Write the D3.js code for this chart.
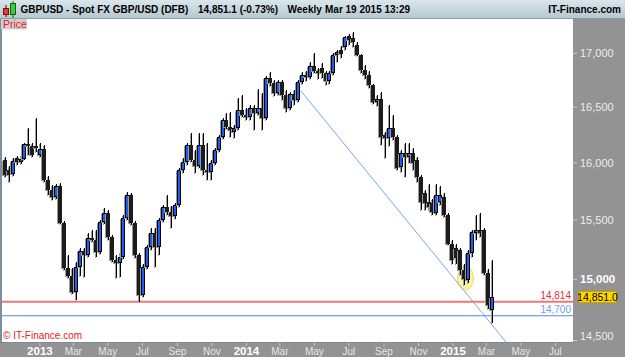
<!DOCTYPE html>
<html>
<head>
<meta charset="utf-8">
<script src="https://cdn.jsdelivr.net/npm/d3@7"></script>
<style>
body { margin: 0; background: #fff; }
svg { display: block; font-family: Arial, "Liberation Sans", sans-serif; }
</style>
</head>
<body>
<svg id="chart" width="625" height="357"></svg>
<script>
// weekly GBP/USD candles, first week starts Mon 5 Nov 2012
const firstWeek = '2012-11-05';
const opens = [16025,15936,15900,16043,16007,16034,16167,16149,16149,16069,16123,15848,15760,15699,15795,15475,15094,15028,14895,15102,
  15237,15203,15347,15330,15228,15484,15561,15356,15161,15136,15186,15518,15717,15475,15203,14870,15102,15271,15390,15271,
  15501,15613,15570,15535,15630,15936,16007,16158,16025,15971,16158,15936,15918,15998,16114,16230,16383,16320,16275,16311,
  16475,16429,16411,16493,16447,16493,16402,16770,16723,16630,16732,16612,16493,16621,16566,16732,16797,16779,16881,16834,
  16862,16816,16742,16816,16984,17031,17060,17164,17145,17078,16984,16844,16797,16704,16548,16575,16248,16220,16311,16230,
  15962,16087,16052,16087,16025,15875,15734,15656,15647,15561,15656,15699,15544,15296,15262,15245,15077,14994,15220,15390,
  15415,15415,15052,14747];
const highs = [16052,15971,16043,16061,16069,16176,16311,16176,16400,16176,16158,15883,15804,15813,15822,15492,15203,15094,15144,15262,
  15262,15390,15415,15415,15501,15604,15587,15372,15203,15228,15544,15743,15734,15492,15220,15127,15288,15432,15432,15518,
  15630,15717,15621,15647,15953,16043,16176,16266,16114,16266,16266,16176,16025,16132,16248,16402,16447,16456,16340,16584,
  16612,16493,16520,16520,16667,16630,16788,16825,16751,16751,16751,16658,16640,16658,16751,16825,16834,16918,17003,16862,
  16909,16834,16834,17003,17031,17070,17164,17183,17200,17107,16993,16890,16834,16714,16612,16640,16275,16520,16429,16248,
  16114,16176,16176,16132,16052,15892,15760,15813,15680,15813,15795,15734,15561,15330,15296,15262,15127,15245,15415,15544,
  15561,15432,15085,15161];
const lows = [15875,15830,15883,15980,15989,16025,16069,16052,16096,16052,15830,15717,15673,15682,15467,15077,15011,14878,14829,15028,
  15019,15186,15313,15186,15211,15467,15330,15144,15011,15019,15169,15501,15458,15178,14814,14853,15085,15245,15102,15203,
  15484,15544,15432,15509,15613,15909,15980,16007,15909,15953,15892,15848,15848,15980,16096,16212,16302,16230,16220,16290,
  16411,16383,16383,16293,16429,16293,16383,16695,16603,16612,16566,16456,16475,16520,16548,16714,16742,16760,16816,16760,
  16770,16704,16714,16797,16920,16956,17030,17080,17060,16975,16816,16760,16680,16530,16511,16158,16043,16150,16203,15936,
  15918,15875,15998,15936,15830,15587,15587,15587,15544,15544,15630,15527,15288,15127,15127,15036,14953,14970,15186,15330,
  15356,15036,14755,14642];
const closes = [15892,15892,16016,16007,16034,16167,16149,16069,16132,16123,15848,15760,15699,15795,15475,15094,15028,14895,15102,15237,
  15203,15347,15330,15228,15484,15561,15356,15161,15136,15186,15518,15717,15475,15203,14870,15102,15271,15390,15271,15501,
  15613,15570,15535,15630,15936,16007,16158,16025,15971,16158,15936,15918,15998,16114,16230,16383,16320,16293,16311,16475,
  16429,16411,16493,16447,16493,16402,16770,16723,16630,16732,16612,16493,16621,16566,16732,16797,16779,16881,16834,16816,
  16816,16742,16816,16984,17012,16993,17155,17126,17107,16984,16844,16797,16704,16548,16575,16230,16220,16311,16230,15953,
  16087,16052,16087,15998,15875,15656,15647,15613,15570,15717,15717,15544,15296,15161,15178,15077,15003,15220,15398,15415,
  15390,15052,14788,14851];

const priceTicks = [14500, 15000, 15500, 16000, 16500, 17000];
const timeTicks = ['2013-01-01','2013-03-01','2013-05-01','2013-07-01','2013-09-01','2013-11-01',
  '2014-01-01','2014-03-01','2014-05-01','2014-07-01','2014-09-01','2014-11-01',
  '2015-01-01','2015-03-01','2015-05-01','2015-07-01'];
const levelValues = [14814, 14700];
const trendDates = ['2014-04-07', '2015-04-06'];
const trendPrices = [16650, 14480];
const markDate = '2015-01-23', markPrice = 15010;
const lastPrice = 14851.0;

const W = 625, H = 357;
const plotL = 2, plotR = 573, plotT = 19, plotB = 342;
const parse = d3.utcParse('%Y-%m-%d');
const blue = '#1e5cf2';

const candles = opens.map((o, i) => ({
    date: d3.utcDay.offset(parse(firstWeek), 7 * i),
    o: o, h: highs[i], l: lows[i], c: closes[i]
}));

const x = d3.scaleUtc()
    .domain([parse('2012-10-26'), parse('2015-08-01')])
    .range([plotL, plotR]);
const y = d3.scaleLog()
    .domain([14488, 17326])
    .range([plotB, plotT]);

const svg = d3.select('#chart');
const defs = svg.append('defs');

let grad = defs.append('linearGradient').attr('id', 'hdr').attr('x1', 0).attr('x2', 0).attr('y1', 0).attr('y2', 1);
grad.append('stop').attr('offset', '0%').attr('stop-color', '#dbe6eb');
grad.append('stop').attr('offset', '100%').attr('stop-color', '#b4c6cf');

defs.append('clipPath').attr('id', 'plotClip')
    .append('rect')
    .attr('x', plotL).attr('y', plotT)
    .attr('width', plotR - plotL).attr('height', plotB - plotT);

// panels
svg.append('rect').attr('width', W).attr('height', H).attr('fill', '#939393');
svg.append('rect')
    .attr('x', plotL).attr('y', plotT)
    .attr('width', plotR - plotL).attr('height', plotB - plotT)
    .attr('fill', '#fff');
svg.append('rect').attr('x', 0).attr('y', plotT).attr('width', plotL).attr('height', plotB - plotT).attr('fill', '#7c8f9a');
svg.append('line')
    .attr('x1', 0).attr('x2', plotR).attr('y1', plotB + 0.5).attr('y2', plotB + 0.5)
    .attr('stroke', '#7c8a92');

const plot = svg.append('g').attr('clip-path', 'url(#plotClip)');

// yellow highlight
plot.append('ellipse')
    .attr('cx', x(parse(markDate)))
    .attr('cy', y(markPrice))
    .attr('rx', 8).attr('ry', 12)
    .attr('fill', '#fbf5a0')
    .attr('stroke', '#e6dc78')
    .attr('stroke-width', 1);

// trend line
plot.append('line')
    .attr('x1', x(parse(trendDates[0]))).attr('y1', y(trendPrices[0]))
    .attr('x2', x(parse(trendDates[1]))).attr('y2', y(trendPrices[1]))
    .attr('stroke', '#7aa6f4')
    .attr('stroke-width', 1);

// horizontal levels
const levelColors = ['#f27474', '#4f86ee'];
const levelWidths = [2, 1];
const levelText = ['#ee2a36', '#6b9ef0'];
levelValues.forEach((v, i) => {
    plot.append('line')
        .attr('x1', plotL).attr('x2', plotR)
        .attr('y1', y(v)).attr('y2', y(v))
        .attr('stroke', levelColors[i])
        .attr('stroke-width', levelWidths[i]);
    svg.append('text')
        .attr('x', plotR - 2)
        .attr('y', y(v) - 3)
        .attr('text-anchor', 'end')
        .attr('font-size', '10px')
        .attr('fill', levelText[i])
        .text(d3.format(',')(v));
});

// candles
const cg = plot.append('g').attr('shape-rendering', 'crispEdges');
candles.forEach(d => {
    let cx = Math.round(x(d.date) - 3);
    let top = Math.round(y(Math.max(d.o, d.c)));
    let bot = Math.round(y(Math.min(d.o, d.c)));
    let hi = Math.round(y(d.h));
    let lo = Math.round(y(d.l));
    let bh = Math.max(1, bot - top);
    // grey shadow
    cg.append('rect').attr('x', cx - 1).attr('y', hi + 1).attr('width', 1).attr('height', lo - hi).attr('fill', '#a0a0a0');
    cg.append('rect').attr('x', cx - 3).attr('y', top + 1).attr('width', 4).attr('height', bh).attr('fill', '#9a9a9a');
    // wick
    cg.append('rect').attr('x', cx).attr('y', hi).attr('width', 1).attr('height', lo - hi).attr('fill', '#000');
    // body
    cg.append('rect').attr('x', cx - 2).attr('y', top).attr('width', 4).attr('height', bh)
        .attr('fill', d.c >= d.o ? '#000' : '#1c1c1c');
    if (d.c >= d.o && bh > 2) {
        cg.append('rect').attr('x', cx - 1).attr('y', top + 1).attr('width', 2).attr('height', bh - 2)
            .attr('fill', blue);
    }
});

// right axis
const ya = svg.append('g');
priceTicks.forEach(v => {
    let ty = y(v);
    ya.append('line')
        .attr('x1', plotR).attr('x2', plotR + 4)
        .attr('y1', ty).attr('y2', ty)
        .attr('stroke', '#c8c8c8');
    ya.append('text')
        .attr('x', plotR + 7)
        .attr('y', Math.min(ty, 336))
        .attr('dy', '0.35em')
        .attr('font-size', v === 15000 ? '11.5px' : '11px')
        .attr('font-weight', v === 15000 ? 'bold' : 'normal')
        .attr('fill', v === 15000 ? '#ffffff' : '#ececec')
        .text(d3.format(',')(v));
});

// last price tag
svg.append('rect')
    .attr('x', 578.5).attr('y', y(lastPrice) - 6)
    .attr('width', 38).attr('height', 11.5)
    .attr('fill', '#ffd600')
    .attr('stroke', '#b89b00');
svg.append('text')
    .attr('x', 597.5).attr('y', y(lastPrice))
    .attr('dy', '0.35em')
    .attr('text-anchor', 'middle')
    .attr('font-size', '10.5px')
    .attr('fill', '#000')
    .text(d3.format(',.1f')(lastPrice));

// bottom axis
const monthFmt = d3.utcFormat('%b');
const xa = svg.append('g');
timeTicks.forEach(s => {
    let dt = parse(s);
    let tx = x(dt);
    let isYear = dt.getUTCMonth() === 0;
    xa.append('line')
        .attr('x1', tx).attr('x2', tx)
        .attr('y1', plotB + 1).attr('y2', plotB + 4)
        .attr('stroke', '#c8c8c8');
    xa.append('text')
        .attr('x', tx)
        .attr('y', 354.5)
        .attr('text-anchor', 'middle')
        .attr('font-size', isYear ? '11.5px' : '10px')
        .attr('font-weight', isYear ? 'bold' : 'normal')
        .attr('fill', isYear ? '#ffffff' : '#e6e6e6')
        .text(isYear ? dt.getUTCFullYear() : monthFmt(dt));
});

// watermark
svg.append('text')
    .attr('x', 3).attr('y', 339)
    .attr('font-size', '10px')
    .attr('fill', '#e8202a')
    .text('\u00a9 IT-Finance.com');

// header
svg.append('rect').attr('x', 0).attr('y', 0).attr('width', W).attr('height', plotT).attr('fill', 'url(#hdr)');
svg.append('line').attr('x1', 0).attr('x2', W).attr('y1', plotT - 0.5).attr('y2', plotT - 0.5).attr('stroke', '#8a9ca6');
// little candle icon
svg.append('rect').attr('x', 5.5).attr('y', 5).attr('width', 1).attr('height', 12).attr('fill', '#600');
svg.append('rect').attr('x', 3.5).attr('y', 8.5).attr('width', 5).attr('height', 6).attr('fill', '#e8383c').attr('stroke', '#7a1010');
svg.append('rect').attr('x', 12.5).attr('y', 1).attr('width', 1).attr('height', 17).attr('fill', '#060');
svg.append('rect').attr('x', 10.5).attr('y', 3.5).attr('width', 5).attr('height', 11).attr('fill', '#3ccd3c').attr('stroke', '#106010');

const hdr = svg.append('g').attr('font-size', '10px').attr('font-weight', 'bold').attr('fill', '#000');
hdr.append('text').attr('x', 20.5).attr('y', 12.5).text('GBPUSD - Spot FX GBP/USD (DFB)');
hdr.append('text').attr('x', 198).attr('y', 12.5).text('14,851.1 (-0.73%)');
hdr.append('text').attr('x', 287.5).attr('y', 12.5).text('Weekly');
hdr.append('text').attr('x', 325).attr('y', 12.5).text('Mar 19 2015 13:29');
hdr.append('text').attr('x', 621).attr('y', 12.5).attr('text-anchor', 'end').text('IT-Finance.com');

// "Price" tab
svg.append('rect').attr('x', 1).attr('y', plotT).attr('width', 26).attr('height', 10.5).attr('fill', '#cfcfcf');
svg.append('text').attr('x', 3).attr('y', 27.5).attr('font-size', '10.5px').attr('fill', '#e8202a').text('Price');
</script>
</body>
</html>
